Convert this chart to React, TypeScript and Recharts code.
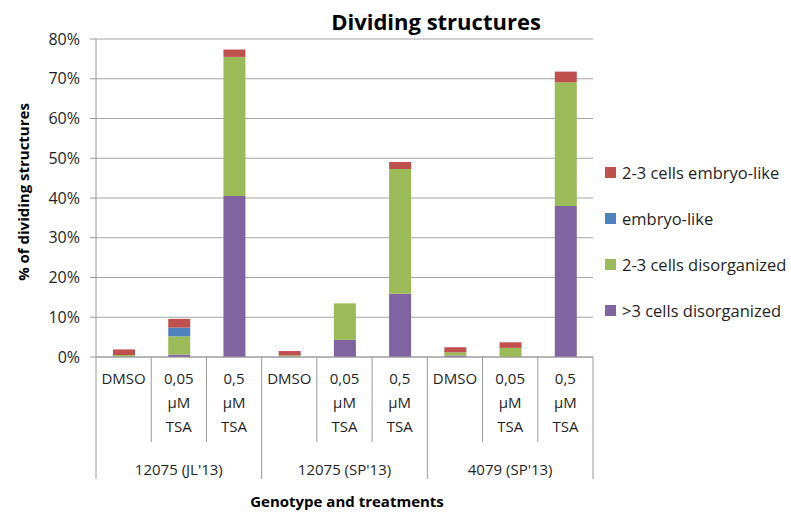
import React from 'react';
import { BarChart, Bar, XAxis, YAxis, CartesianGrid, Legend } from 'recharts';

// Treatments inside each genotype group (label lines as printed under each bar)
const treatments = ['DMSO', '0,05 µM TSA', '0,5 µM TSA'];
const treatmentLines = [['DMSO'], ['0,05', 'µM', 'TSA'], ['0,5', 'µM', 'TSA']];
const genotypes = ["12075 (JL'13)", "12075 (SP'13)", "4079 (SP'13)"];

// Percent of dividing structures, one value per bar (genotype x treatment)
const over3Disorganized = [0.1, 0.6, 40.5, 0.1, 4.3, 15.9, 0.35, 0, 38.0];
const twoThreeDisorganized = [0.4, 4.6, 35.0, 0.3, 9.2, 31.4, 0.85, 2.3, 31.1];
const embryoLike = [0, 2.2, 0, 0, 0, 0, 0, 0, 0];
const twoThreeEmbryoLike = [1.4, 2.2, 1.85, 1.1, 0, 1.75, 1.25, 1.4, 2.7];

const yTicks = [0, 10, 20, 30, 40, 50, 60, 70, 80];

// Legend rows, top to bottom
const legendOrder = ['2-3 cells embryo-like', 'embryo-like', '2-3 cells disorganized', '>3 cells disorganized'];

const data = genotypes.flatMap((genotype, gi) =>
  treatments.map((treatment, ti) => {
    const i = gi * 3 + ti;
    return {
      key: `${genotype} ${treatment}`,
      genotype,
      lines: treatmentLines[ti],
      over3: over3Disorganized[i],
      twoThreeDis: twoThreeDisorganized[i],
      embryo: embryoLike[i],
      twoThreeEmb: twoThreeEmbryoLike[i],
    };
  })
);

const W = 791;
const H = 515;
const MARGIN = { top: 39, right: 198, bottom: 0, left: 0 };
const Y_AXIS_W = 96;
const X_AXIS_H = 158;
const PLOT_W = W - MARGIN.left - MARGIN.right - Y_AXIS_W;

const FONT = '"Open Sans", sans-serif';
const TEXT = '#1f1f1f';
const AXIS = '#9a9a9a';
const GRID = '#a6a6a6';

const COLORS = {
  over3: '#8064A2',
  twoThreeDis: '#9BBB59',
  embryo: '#4F81BD',
  twoThreeEmb: '#C0504D',
};

const CategoryTick = (props: any) => {
  const { x, y, index } = props;
  const n = data.length;
  const step = PLOT_W / n;
  const row = data[index];
  if (!row) return null;
  const groupStart = index % 3 === 0;
  const left = x - step / 2;
  const right = x + step / 2;
  return (
    <g>
      <line x1={left} x2={left} y1={y} y2={y + (groupStart ? 122 : 85)} stroke={AXIS} strokeWidth={1} />
      {index === n - 1 && (
        <line x1={right} x2={right} y1={y} y2={y + 122} stroke={AXIS} strokeWidth={1} />
      )}
      <text textAnchor="middle" fontFamily={FONT} fontSize={15} fill={TEXT}>
        {row.lines.map((l: string, i: number) => (
          <tspan key={i} x={x} y={y + 27 + i * 24}>
            {l}
          </tspan>
        ))}
      </text>
      {index % 3 === 1 && (
        <text x={x} y={y + 118} textAnchor="middle" fontFamily={FONT} fontSize={15} fill={TEXT}>
          {row.genotype}
        </text>
      )}
    </g>
  );
};

const LegendContent = (props: any) => {
  const items = [...(props.payload || [])].sort(
    (a: any, b: any) => legendOrder.indexOf(a.value) - legendOrder.indexOf(b.value)
  );
  return (
    <div style={{ fontFamily: FONT, fontSize: 16.5, color: TEXT }}>
      {items.map((it: any) => (
        <div key={it.value} style={{ height: 46, display: 'flex', alignItems: 'center', whiteSpace: 'nowrap' }}>
          <span style={{ display: 'inline-block', width: 11, height: 11, background: it.color, marginRight: 6 }} />
          <span>{it.value}</span>
        </div>
      ))}
    </div>
  );
};

export default function App() {
  return (
    <div style={{ position: 'absolute', left: 0, top: 0, width: W, height: H, background: '#fff' }}>
      <BarChart width={W} height={H} data={data} margin={MARGIN} barSize={22}>
        <CartesianGrid vertical={false} stroke={GRID} />
        <XAxis
          dataKey="key"
          interval={0}
          height={X_AXIS_H}
          tickLine={false}
          tickSize={0}
          tickMargin={0}
          axisLine={{ stroke: AXIS }}
          tick={<CategoryTick />}
        />
        <YAxis
          width={Y_AXIS_W}
          domain={[0, 80]}
          ticks={yTicks}
          interval={0}
          tickFormatter={(v: number) => `${v}%`}
          tickSize={6}
          tickMargin={10}
          tickLine={{ stroke: AXIS }}
          axisLine={{ stroke: AXIS }}
          tick={{ fontFamily: FONT, fontSize: 16, fill: TEXT }}
        />
        <Legend
          layout="vertical"
          align="center"
          verticalAlign="middle"
          wrapperStyle={{ left: 605, top: 149, width: 186 }}
          content={<LegendContent />}
        />
        <Bar dataKey="over3" name=">3 cells disorganized" stackId="s" fill={COLORS.over3} isAnimationActive={false} />
        <Bar dataKey="twoThreeDis" name="2-3 cells disorganized" stackId="s" fill={COLORS.twoThreeDis} isAnimationActive={false} />
        <Bar dataKey="embryo" name="embryo-like" stackId="s" fill={COLORS.embryo} isAnimationActive={false} />
        <Bar dataKey="twoThreeEmb" name="2-3 cells embryo-like" stackId="s" fill={COLORS.twoThreeEmb} isAnimationActive={false} />
      </BarChart>
      <div
        style={{
          position: 'absolute', left: 436, top: 21, transform: 'translate(-50%, -50%)',
          fontFamily: FONT, fontWeight: 700, fontSize: 22, color: '#000', whiteSpace: 'nowrap', lineHeight: 1,
        }}
      >
        Dividing structures
      </div>
      <div
        style={{
          position: 'absolute', left: 23, top: 192, transform: 'translate(-50%, -50%) rotate(-90deg)',
          fontFamily: FONT, fontWeight: 700, fontSize: 15, color: '#000', whiteSpace: 'nowrap', lineHeight: 1,
        }}
      >
        % of dividing structures
      </div>
      <div
        style={{
          position: 'absolute', left: 347, top: 501, transform: 'translate(-50%, -50%)',
          fontFamily: FONT, fontWeight: 700, fontSize: 15, color: '#000', whiteSpace: 'nowrap', lineHeight: 1,
        }}
      >
        Genotype and treatments
      </div>
    </div>
  );
}
